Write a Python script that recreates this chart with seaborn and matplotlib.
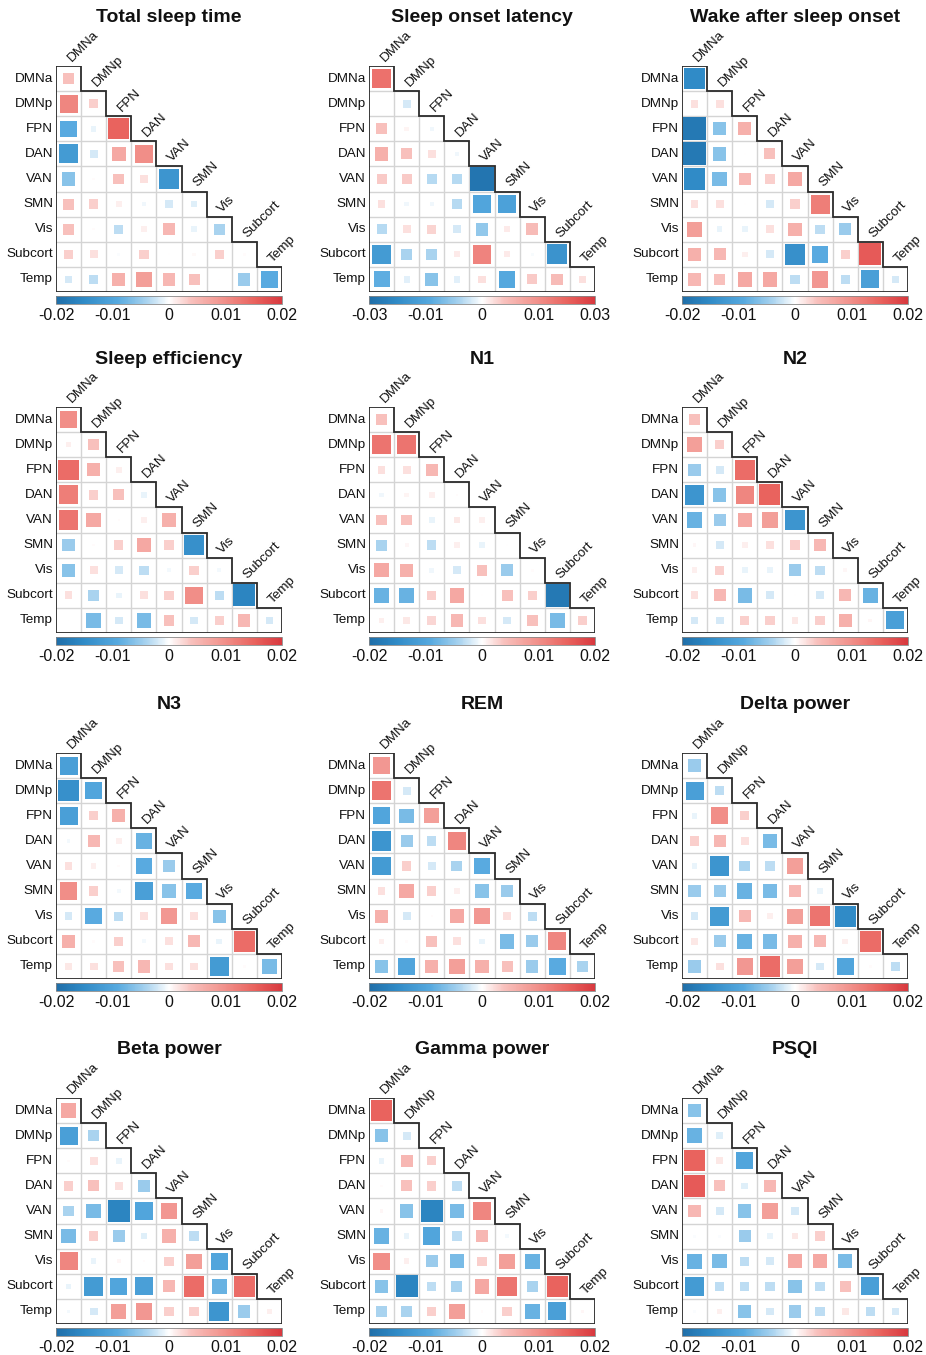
import numpy as np
import pandas as pd
import seaborn as sns
import matplotlib
matplotlib.use("Agg")
import matplotlib.pyplot as plt
from matplotlib.colors import LinearSegmentedColormap, Normalize
from matplotlib.cm import ScalarMappable

# ---------------- data ----------------
networks = ["DMNa", "DMNp", "FPN", "DAN", "VAN", "SMN", "Vis", "Subcort", "Temp"]

titles = ["Total sleep time", "Sleep onset latency", "Wake after sleep onset",
          "Sleep efficiency", "N1", "N2",
          "N3", "REM", "Delta power",
          "Beta power", "Gamma power", "PSQI"]

total_sleep_time = [
    [0.004],
    [0.011, 0.003],
    [-0.009, -0.001, 0.015],
    [-0.012, -0.002, 0.007, 0.010],
    [-0.006, 0.0002, 0.004, 0.002, -0.013],
    [0.004, 0.003, 0.001, -0.0007, -0.002, -0.0015],
    [0.004, 0.0002, -0.003, 0.001, 0.005, -0.001, -0.004],
    [0.003, 0.002, -0.0003, 0.003, 0.0001, 0.0004, 0.003, 0.0002],
    [-0.002, -0.003, 0.006, 0.008, 0.005, 0.004, 0.0001, -0.005, -0.009],
]
sleep_onset_latency = [
    [0.020],
    [0.0, -0.003],
    [0.006, 0.001, -0.001],
    [0.009, 0.006, 0.003, -0.001],
    [0.005, 0.005, -0.005, -0.005, -0.028],
    [0.003, -0.001, -0.001, -0.005, -0.015, -0.016],
    [-0.005, 0.003, 0.004, -0.003, -0.008, 0.002, 0.007],
    [-0.018, -0.006, -0.006, 0.002, 0.017, 0.002, -0.0005, -0.020],
    [-0.013, -0.002, -0.009, -0.002, 0.003, -0.014, 0.005, 0.007, 0.003],
]
wake_after_sleep_onset = [
    [-0.015],
    [0.002, 0.002],
    [-0.018, -0.006, 0.006],
    [-0.018, -0.006, 0.0001, 0.004],
    [-0.015, -0.007, 0.005, 0.003, 0.007],
    [0.002, 0.002, 0.0001, -0.002, 0.003, 0.012],
    [0.008, -0.001, -0.001, 0.002, 0.006, -0.003, -0.005],
    [0.006, 0.005, 0.001, -0.002, -0.014, -0.009, 0.003, 0.016],
    [0.005, 0.004, 0.007, 0.007, -0.003, 0.009, -0.003, -0.011, -0.002],
]
sleep_efficiency = [
    [0.010],
    [0.001, 0.004],
    [0.014, 0.006, 0.001],
    [0.012, 0.003, 0.004, -0.001],
    [0.013, 0.007, 0.0002, 0.001, 0.006],
    [-0.005, 0.0002, 0.003, 0.007, 0.003, -0.014],
    [-0.006, 0.002, -0.002, -0.003, -0.0005, 0.003, -0.0005],
    [0.002, -0.004, -0.001, 0.002, 0.003, 0.010, -0.003, -0.016],
    [0.0001, -0.007, -0.002, -0.007, 0.004, -0.002, 0.003, 0.005, -0.002],
]
n1 = [
    [0.004],
    [0.013, 0.013],
    [0.002, 0.002, 0.005],
    [-0.0007, 0.0007, 0.001, 0.0002],
    [0.004, 0.004, -0.001, 0.0015, 0.001],
    [-0.004, 0.0005, -0.003, 0.001, -0.001, 0.0001],
    [0.007, 0.006, -0.0007, -0.002, 0.004, -0.005, 0.0003],
    [-0.008, -0.008, 0.003, 0.007, 0.0001, 0.004, 0.003, -0.018],
    [0.001, 0.0015, 0.0025, 0.005, 0.002, -0.002, 0.004, -0.007, 0.003],
]
n2 = [
    [0.004],
    [0.008, 0.003],
    [-0.005, -0.002, 0.014],
    [-0.013, -0.006, 0.011, 0.015],
    [-0.008, -0.005, 0.007, 0.008, -0.013],
    [0.0005, -0.002, 0.001, 0.002, 0.003, 0.005],
    [0.001, 0.003, -0.001, -0.001, -0.005, -0.003, 0.0005],
    [0.002, 0.005, -0.007, -0.002, 0.0001, -0.002, 0.005, -0.008],
    [-0.002, -0.002, 0.003, 0.003, 0.0015, 0.003, 0.006, 0.0005, -0.011],
]
n3 = [
    [-0.011],
    [-0.014, -0.010],
    [-0.011, 0.003, 0.006],
    [-0.0005, 0.005, 0.001, -0.008],
    [0.002, 0.001, 0.0003, -0.009, -0.005],
    [0.010, 0.003, -0.0005, -0.011, -0.006, -0.009],
    [-0.002, -0.009, -0.003, 0.002, 0.009, 0.002, -0.006],
    [0.006, 0.0003, 0.003, -0.0005, 0.002, 0.005, -0.001, 0.014],
    [0.0015, 0.002, 0.004, 0.005, 0.002, 0.002, -0.012, 0.0002, -0.007],
]
rem = [
    [0.009],
    [0.013, -0.002],
    [-0.010, -0.007, 0.008],
    [-0.013, -0.005, -0.003, 0.011],
    [-0.012, 0.003, -0.002, -0.004, -0.009],
    [0.002, 0.007, 0.003, 0.001, -0.006, -0.005],
    [0.006, -0.002, 0.0002, 0.007, 0.009, 0.002, -0.003],
    [0.001, 0.0002, 0.004, 0.002, -0.001, -0.007, -0.005, 0.011],
    [-0.006, -0.010, 0.006, 0.008, 0.006, 0.004, -0.005, -0.009, -0.004],
]
delta_power = [
    [-0.005],
    [-0.011, -0.003],
    [-0.001, 0.010, 0.003],
    [0.003, 0.005, 0.002, -0.007],
    [-0.001, -0.013, -0.004, -0.003, 0.008],
    [-0.005, -0.005, -0.008, -0.007, 0.005, -0.001],
    [-0.002, -0.012, 0.005, 0.001, 0.008, 0.013, -0.015],
    [0.0015, -0.005, -0.008, -0.007, 0.006, 0.005, 0.001, 0.014],
    [-0.005, 0.002, 0.009, 0.014, 0.008, -0.002, -0.010, 0.0002, -0.003],
]
beta_power = [
    [0.007],
    [-0.011, -0.004],
    [0.0002, 0.002, -0.001],
    [0.003, 0.004, 0.002, -0.005],
    [-0.004, -0.007, -0.016, -0.010, 0.009],
    [-0.007, 0.003, -0.005, -0.0015, 0.006, -0.003],
    [0.011, -0.001, 0.0005, 0.0002, 0.003, 0.008, -0.010],
    [-0.001, -0.012, -0.010, -0.011, 0.005, 0.014, -0.008, 0.014],
    [-0.0005, -0.002, 0.008, 0.009, 0.003, 0.003, -0.013, -0.005, 0.001],
]
gamma_power = [
    [0.015],
    [-0.006, -0.002],
    [-0.001, 0.005, 0.003],
    [0.0002, 0.004, 0.003, -0.003],
    [0.0005, -0.006, -0.016, -0.007, 0.011],
    [-0.008, -0.001, -0.010, -0.003, 0.005, -0.0005],
    [0.010, 0.001, -0.005, -0.007, 0.003, 0.008, -0.008],
    [-0.006, -0.016, -0.003, -0.004, 0.007, 0.013, -0.004, 0.015],
    [-0.004, -0.004, 0.003, 0.008, 0.0002, 0.003, -0.008, -0.011, 0.0005],
]
psqi = [
    [-0.006],
    [-0.008, -0.0015],
    [0.015, 0.0015, -0.010],
    [0.016, 0.004, -0.0015, 0.005],
    [0.005, -0.002, -0.006, 0.008, -0.002],
    [-0.0003, -0.0003, -0.005, -0.001, 0.0015, 0.003],
    [-0.008, -0.007, -0.003, -0.002, 0.007, 0.007, -0.007],
    [-0.012, -0.003, -0.003, -0.003, -0.006, -0.003, 0.004, -0.011],
    [-0.0003, 0.001, -0.006, -0.002, -0.005, -0.003, 0.0015, -0.003, -0.002],
]

panels = [total_sleep_time, sleep_onset_latency, wake_after_sleep_onset,
          sleep_efficiency, n1, n2, n3, rem, delta_power,
          beta_power, gamma_power, psqi]

limits = [0.02, 0.03, 0.02, 0.02, 0.02, 0.02, 0.02, 0.02, 0.02, 0.02, 0.02, 0.02]
tick_labels_02 = ["-0.02", "-0.01", "0", "0.01", "0.02"]
tick_labels_03 = ["-0.03", "-0.01", "0", "0.01", "0.03"]

# ---------------- style ----------------
sns.set_theme(style="white")
plt.rcParams["font.family"] = ["Liberation Sans", "DejaVu Sans"]

W, H = 926, 1355
fig = plt.figure(figsize=(W / 100, H / 100), dpi=100)

col_left = [56, 369, 682]
row_top = [66, 407, 753, 1098]
box = 226

cmap = LinearSegmentedColormap.from_list(
    "corr",
    [(0.0, "#1f6ea8"), (0.12, "#2f8ac6"), (0.27, "#56a9df"), (0.4, "#a9d3ef"),
     (0.5, "#ffffff"), (0.6, "#f8c0bc"), (0.73, "#f29690"), (0.88, "#e9625d"),
     (1.0, "#d8393f")])

cell_pt = box / 9 * 72 / 100
max_area = (cell_pt * 0.97) ** 2
n = len(networks)

for k, (vals, title, lim) in enumerate(zip(panels, titles, limits)):
    r, c = divmod(k, 3)
    left, top = col_left[c], row_top[r]
    ax = fig.add_axes([left / W, 1 - (top + box) / H, box / W, box / H])

    rows, cols, v = [], [], []
    for i, row in enumerate(vals):
        for j, val in enumerate(row):
            rows.append(i)
            cols.append(j)
            v.append(val)
    df = pd.DataFrame({"row": rows, "col": cols, "value": v})
    df["magnitude"] = df["value"].abs()

    # grid lines inside the lower triangle
    for i in range(n - 1):
        ax.plot([-0.5, i + 1.5], [i + 0.5, i + 0.5], color="#d4d4d4", lw=1.0, zorder=1)
        ax.plot([i + 0.5, i + 0.5], [i + 0.5, n - 0.5], color="#d4d4d4", lw=1.0, zorder=1)

    sns.scatterplot(data=df, x="col", y="row", hue="value", size="magnitude",
                    palette=cmap, hue_norm=(-lim, lim),
                    sizes=(0, max_area), size_norm=(0, lim),
                    marker="s", linewidth=0, legend=False, ax=ax, zorder=3)

    # staircase outline
    xs, ys = [-0.5], [-0.5]
    for i in range(n):
        xs += [i + 0.5, i + 0.5]
        ys += [i - 0.5, i + 0.5]
    xs += [-0.5, -0.5]
    ys += [n - 0.5, -0.5]
    ax.plot(xs, ys, color="#2b2b2b", lw=1.3, zorder=4, solid_joinstyle="miter")

    ax.set_xlim(-0.5, n - 0.5)
    ax.set_ylim(n - 0.5, -0.5)
    ax.set_axis_off()

    for i, name in enumerate(networks):
        ax.text(-0.62, i, name, ha="right", va="center", fontsize=9.7, color="#111111")
        ax.text(i + 0.2, i - 0.58, name, ha="left", va="bottom", rotation=45,
                rotation_mode="anchor", fontsize=9.7, color="#111111")

    # colour bar
    cax = fig.add_axes([left / W, 1 - (top + box + 12) / H, box / W, 8 / H])
    cb = fig.colorbar(ScalarMappable(norm=Normalize(-lim, lim), cmap=cmap),
                      cax=cax, orientation="horizontal")
    cb.set_ticks([-lim, -lim / 2, 0, lim / 2, lim])
    cb.set_ticklabels(tick_labels_03 if lim > 0.025 else tick_labels_02)
    cax.tick_params(length=0, labelsize=11.5, pad=3, colors="#111111")
    cb.outline.set_linewidth(0.6)
    cb.outline.set_edgecolor("#888888")

    fig.text((left + box / 2) / W, 1 - (top - 48) / H, title, ha="center", va="center",
             fontsize=14, fontweight="bold", color="#111111")

fig.savefig("out.png", dpi=100)
